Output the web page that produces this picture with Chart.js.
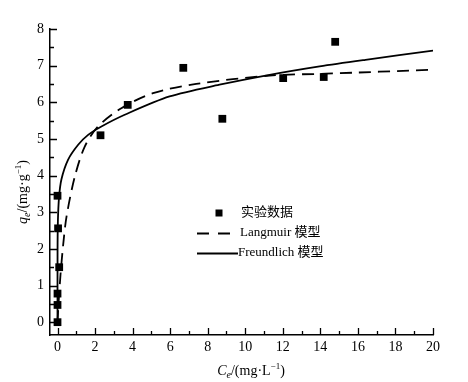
<!DOCTYPE html>
<html>
<head>
<meta charset="utf-8">
<script src="https://cdn.jsdelivr.net/npm/chart.js@4"></script>
<style>
    body { margin: 0; background: #fff; }
    #wrap { width: 468px; height: 382px; }
</style>
</head>
<body>
<div id="wrap"><canvas id="isoChart"></canvas></div>
<script>
// experimental points
const expC = [0, 0, 0, 0.09, 0.03, 0, 2.29, 3.74, 6.70, 8.78, 12.02, 14.18, 14.79];
const expQ = [0, 0.47, 0.78, 1.5, 2.56, 3.45, 5.10, 5.93, 6.94, 5.55, 6.66, 6.69, 7.65];

// Langmuir model curve
const langC = [0, 0.06, 0.16, 0.3, 0.48, 0.92, 1.45, 2.16, 3.4, 5.09, 7.39, 11.3, 14.3, 20];
const langQ = [0, 0.55, 1.3, 2.1, 2.88, 3.97, 4.79, 5.34, 5.84, 6.25, 6.5, 6.73, 6.78, 6.89];

// Freundlich model curve
const freuC = [0, 0.002, 0.02, 0.08, 0.21, 0.56, 1.1, 1.63, 2.34, 3.58, 5.97, 8.63, 11.3, 13.96, 16.4, 20];
const freuQ = [0, 1.9, 2.75, 3.4, 3.9, 4.43, 4.84, 5.11, 5.34, 5.66, 6.16, 6.48, 6.75, 6.98, 7.16, 7.41];

// tick values
const xTicks = [0, 1, 2, 3, 4, 5, 6, 7, 8, 9, 10, 11, 12, 13, 14, 15, 16, 17, 18, 19, 20];
const yTicks = [0, 0.5, 1, 1.5, 2, 2.5, 3, 3.5, 4, 4.5, 5, 5.5, 6, 6.5, 7, 7.5, 8];

const labels = ['实验数据', 'Langmuir 模型', 'Freundlich 模型'];

const serif = "'Liberation Serif', 'Times New Roman', 'Noto Sans CJK SC', serif";
const toXY = (xs, ys) => xs.map((x, i) => ({ x: x, y: ys[i] }));

// inward ticks, axis titles with sub/superscripts, legend box
const decorPlugin = {
    id: 'decor',
    afterDraw(chart) {
        const ctx = chart.ctx;
        const xs = chart.scales.x, ys = chart.scales.y;
        const area = chart.chartArea;
        ctx.save();
        ctx.strokeStyle = '#000';
        ctx.lineWidth = 1.3;
        ctx.beginPath();
        xTicks.forEach(v => {
            const px = Math.round(xs.getPixelForValue(v)) + 0.5;
            const len = v % 2 === 0 ? 7 : 4;
            ctx.moveTo(px, area.bottom);
            ctx.lineTo(px, area.bottom - len);
        });
        yTicks.forEach(v => {
            const py = Math.round(ys.getPixelForValue(v)) + 0.5;
            const len = Number.isInteger(v) ? 7 : 4;
            ctx.moveTo(area.left, py);
            ctx.lineTo(area.left + len, py);
        });
        ctx.stroke();

        // axis title pieces: [text, style]
        const drawTitle = (parts, x, y) => {
            ctx.textBaseline = 'alphabetic';
            ctx.textAlign = 'left';
            let w = 0;
            parts.forEach(p => { ctx.font = p[1]; w += ctx.measureText(p[0]).width; });
            let cx = x - w / 2;
            parts.forEach(p => {
                ctx.font = p[1];
                ctx.fillText(p[0], cx, y + (p[2] || 0));
                cx += ctx.measureText(p[0]).width;
            });
        };
        ctx.fillStyle = '#000';
        drawTitle([
            ['C', 'italic 14px ' + serif],
            ['e', 'italic 10px ' + serif, 3],
            ['/(mg·L', '14px ' + serif],
            ['−1', '9px ' + serif, -6],
            [')', '14px ' + serif]
        ], 251, 375);

        ctx.save();
        ctx.translate(27, 192);
        ctx.rotate(-Math.PI / 2);
        drawTitle([
            ['q', 'italic 14px ' + serif],
            ['e', 'italic 10px ' + serif, 3],
            ['/(mg·g', '14px ' + serif],
            ['−1', '9px ' + serif, -6],
            [')', '14px ' + serif]
        ], 0, 0);
        ctx.restore();

        // legend
        ctx.font = '13px ' + serif;
        ctx.textBaseline = 'middle';
        ctx.fillRect(215.5, 209.5, 7, 7);
        ctx.fillText(labels[0], 241, 213);
        ctx.lineWidth = 2;
        ctx.setLineDash([12, 9]);
        ctx.beginPath();
        ctx.moveTo(197, 233.5);
        ctx.lineTo(234, 233.5);
        ctx.stroke();
        ctx.fillText(labels[1], 240, 233);
        ctx.setLineDash([]);
        ctx.beginPath();
        ctx.moveTo(197, 253.5);
        ctx.lineTo(238, 253.5);
        ctx.stroke();
        ctx.fillText(labels[2], 238, 253);
        ctx.restore();
    }
};

new Chart(document.getElementById('isoChart'), {
    type: 'scatter',
    data: {
        datasets: [
            {
                label: labels[0],
                data: toXY(expC, expQ),
                pointStyle: 'rect',
                pointRadius: 5.5,
                backgroundColor: '#000',
                borderColor: '#000',
                borderWidth: 0,
                order: 0
            },
            {
                label: labels[1],
                data: toXY(langC, langQ),
                showLine: true,
                borderColor: '#000',
                borderWidth: 1.8,
                borderDash: [12, 7],
                tension: 0.3,
                pointRadius: 0,
                order: 1
            },
            {
                label: labels[2],
                data: toXY(freuC, freuQ),
                showLine: true,
                borderColor: '#000',
                borderWidth: 1.8,
                tension: 0.3,
                pointRadius: 0,
                order: 2
            }
        ]
    },
    options: {
        responsive: true,
        maintainAspectRatio: false,
        animation: false,
        layout: { padding: { left: 0, top: 29, right: 35, bottom: 0 } },
        plugins: { legend: { display: false }, tooltip: { enabled: false } },
        scales: {
            x: {
                type: 'linear',
                min: -0.4,
                max: 20,
                afterFit: s => { s.height = 47; },
                afterBuildTicks: s => { s.ticks = xTicks.map(v => ({ value: v })); },
                grid: { drawOnChartArea: false, drawTicks: false },
                border: { color: '#000', width: 1.5 },
                ticks: {
                    padding: 4,
                    color: '#000',
                    font: { family: serif, size: 14 },
                    maxRotation: 0,
                    autoSkip: false,
                    callback: v => (v % 2 === 0 ? String(v) : '')
                }
            },
            y: {
                min: -0.35,
                max: 8,
                afterFit: s => { s.width = 50; },
                afterBuildTicks: s => { s.ticks = yTicks.map(v => ({ value: v })); },
                grid: { drawOnChartArea: false, drawTicks: false },
                border: { color: '#000', width: 1.5 },
                ticks: {
                    padding: 6,
                    color: '#000',
                    font: { family: serif, size: 14 },
                    autoSkip: false,
                    callback: v => (Number.isInteger(v) ? String(v) : '')
                }
            }
        }
    },
    plugins: [decorPlugin]
});
</script>
</body>
</html>
